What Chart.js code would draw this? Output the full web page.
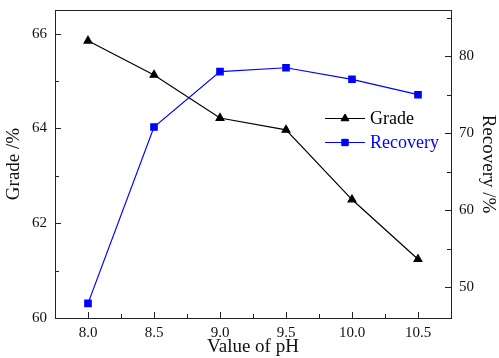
<!DOCTYPE html>
<html>
<head>
<meta charset="utf-8">
<script src="https://cdn.jsdelivr.net/npm/chart.js@4/dist/chart.umd.min.js"></script>
<style>
  html, body { margin: 0; padding: 0; background: #fff; }
  canvas { display: block; }
</style>
</head>
<body>
<canvas id="phChart" width="499" height="358"></canvas>
<script>
// pH series
const phValues = [8.0, 8.5, 9.0, 9.5, 10.0, 10.5];
const grade = [65.85, 65.13, 64.22, 63.97, 62.50, 61.24];
const recovery = [47.9, 70.8, 78.0, 78.5, 77.0, 75.0];

const xTicks = [8.0, 8.5, 9.0, 9.5, 10.0, 10.5];
const xMinor = [8.25, 8.75, 9.25, 9.75, 10.25, 10.75];
const gradeTicks = [60, 62, 64, 66];
const gradeMinor = [61, 63, 65];
const recoveryTicks = [50, 60, 70, 80];
const recoveryMinor = [55, 65, 75, 85];

const serif = "'Liberation Serif', 'Times New Roman', serif";
const toPoints = ys => phValues.map((x, i) => ({ x: x, y: ys[i] }));

// frame + inward ticks, like origin plots
const frameTicks = {
    id: 'frameTicks',
    afterDraw(chart) {
        const { ctx, chartArea: a, scales } = chart;
        ctx.save();
        ctx.strokeStyle = '#222';
        ctx.lineWidth = 1;
        ctx.strokeRect(a.left + 0.5, a.top + 0.5, a.right - a.left, a.bottom - a.top);

        const tick = (scale, vals, len, side) => {
            vals.forEach(v => {
                const p = Math.round(scale.getPixelForValue(v)) + 0.5;
                ctx.beginPath();
                if (side === 'bottom') { ctx.moveTo(p, a.bottom); ctx.lineTo(p, a.bottom - len); }
                if (side === 'left') { ctx.moveTo(a.left, p); ctx.lineTo(a.left + len, p); }
                if (side === 'right') { ctx.moveTo(a.right, p); ctx.lineTo(a.right - len, p); }
                ctx.stroke();
            });
        };
        tick(scales.x, xTicks, 6, 'bottom');
        tick(scales.x, xMinor, 4, 'bottom');
        tick(scales.yGrade, gradeTicks, 6, 'left');
        tick(scales.yGrade, gradeMinor, 4, 'left');
        tick(scales.yRec, recoveryTicks, 6, 'right');
        tick(scales.yRec, recoveryMinor, 4, 'right');
        ctx.restore();
    }
};

// legend drawn inside plot area
const innerLegend = {
    id: 'innerLegend',
    afterDraw(chart) {
        const { ctx, chartArea: a } = chart;
        const x0 = a.right - 126;
        let y = a.top + 108;
        ctx.save();
        chart.data.datasets.forEach(ds => {
            ctx.strokeStyle = ds.borderColor;
            ctx.lineWidth = 1;
            ctx.beginPath();
            ctx.moveTo(x0, y + 0.5);
            ctx.lineTo(x0 + 40, y + 0.5);
            ctx.stroke();
            Chart.helpers.drawPoint(ctx, {
                pointStyle: ds.pointStyle, radius: ds.pointRadius, rotation: 0, borderWidth: 1
            }, x0 + 20, y + 0.5);
            ctx.fillStyle = ds.pointBackgroundColor;
            ctx.fill();
            ctx.fillStyle = ds.legendColor;
            ctx.font = '18px ' + serif;
            ctx.textBaseline = 'middle';
            ctx.fillText(ds.label, x0 + 45, y + 1);
            y += 24;
        });
        ctx.restore();
    }
};

// y axes: fixed width, no extra top/bottom padding for labels
const fixY = w => s => { s.width = w; s.paddingTop = 0; s.paddingBottom = 0; };

new Chart(document.getElementById('phChart'), {
    type: 'line',
    data: {
        datasets: [
            {
                label: 'Grade',
                data: toPoints(grade),
                yAxisID: 'yGrade',
                borderColor: '#000',
                backgroundColor: '#000',
                pointBackgroundColor: '#000',
                pointBorderColor: '#000',
                legendColor: '#000',
                borderWidth: 1.2,
                pointStyle: 'triangle',
                pointRadius: 4.5,
                tension: 0
            },
            {
                label: 'Recovery',
                data: toPoints(recovery),
                yAxisID: 'yRec',
                borderColor: '#0000ff',
                backgroundColor: '#0000ff',
                pointBackgroundColor: '#0000ff',
                pointBorderColor: '#0000ff',
                legendColor: '#0000ff',
                borderWidth: 1.2,
                pointStyle: 'rect',
                pointRadius: 4.5,
                tension: 0
            }
        ]
    },
    options: {
        responsive: false,
        animation: false,
        layout: { padding: { top: 10 } },
        plugins: { legend: { display: false }, tooltip: { enabled: false } },
        scales: {
            x: {
                type: 'linear',
                min: 7.75,
                max: 10.75,
                grid: { display: false, drawTicks: false },
                border: { display: false },
                afterBuildTicks: s => { s.ticks = xTicks.map(v => ({ value: v })); },
                afterFit: s => { s.height = 40; },
                ticks: {
                    color: '#111',
                    padding: 6,
                    font: { family: serif, size: 15 },
                    callback: v => Number(v).toFixed(1)
                },
                title: {
                    display: true,
                    text: 'Value of pH',
                    color: '#111',
                    padding: 0,
                    font: { family: serif, size: 19 }
                }
            },
            yGrade: {
                type: 'linear',
                position: 'left',
                min: 60,
                max: 66.5,
                grid: { display: false, drawTicks: false },
                border: { display: false },
                afterBuildTicks: s => { s.ticks = gradeTicks.map(v => ({ value: v })); },
                afterFit: fixY(55),
                ticks: { color: '#111', padding: 8, font: { family: serif, size: 15 } },
                title: {
                    display: true,
                    text: 'Grade /%',
                    color: '#111',
                    padding: 3,
                    font: { family: serif, size: 19 }
                }
            },
            yRec: {
                type: 'linear',
                position: 'right',
                min: 46,
                max: 86,
                grid: { display: false, drawTicks: false },
                border: { display: false },
                afterBuildTicks: s => { s.ticks = recoveryTicks.map(v => ({ value: v })); },
                afterFit: fixY(48),
                ticks: { color: '#111', padding: 8, font: { family: serif, size: 15 } },
                title: {
                    display: true,
                    text: 'Recovery /%',
                    color: '#111',
                    padding: 0,
                    font: { family: serif, size: 19 }
                }
            }
        }
    },
    plugins: [frameTicks, innerLegend]
});
</script>
</body>
</html>
